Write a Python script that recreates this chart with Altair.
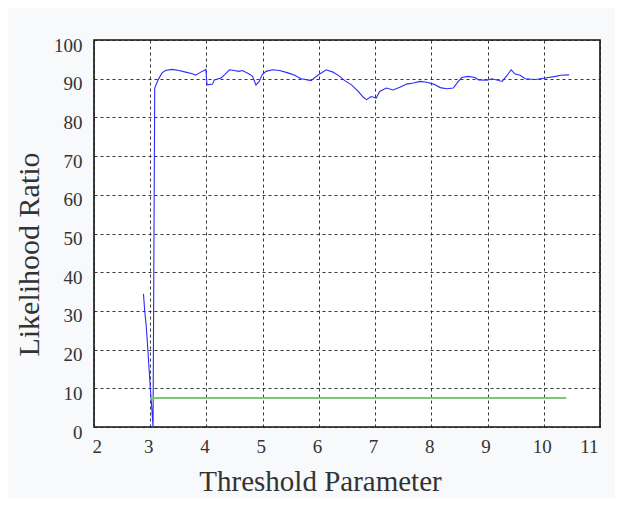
import altair as alt
import pandas as pd

# Blue trace (likelihood ratio vs threshold parameter)
lr_x = [2.88, 2.90, 2.93, 2.96, 3.00, 3.03, 3.05, 3.08, 3.14, 3.21, 3.27, 3.39,
        3.51, 3.63, 3.75, 3.81, 3.90, 3.99, 4.01, 4.11, 4.14, 4.26, 4.32, 4.41,
        4.49, 4.58, 4.64, 4.76, 4.82, 4.88, 4.94, 4.99, 5.06, 5.18, 5.30, 5.45,
        5.57, 5.68, 5.80, 5.86, 5.98, 6.13, 6.25, 6.37, 6.46, 6.58, 6.70, 6.79,
        6.85, 6.93, 7.02, 7.08, 7.20, 7.32, 7.44, 7.56, 7.68, 7.80, 7.92, 8.04,
        8.16, 8.27, 8.39, 8.48, 8.54, 8.66, 8.78, 8.84, 8.99, 9.08, 9.26, 9.35,
        9.42, 9.49, 9.58, 9.67, 9.85, 10.03, 10.21, 10.30, 10.45]
lr_y = [34.4, 30.3, 25.9, 19.5, 10.4, 4.4, 0.0, 87.6, 89.7, 91.5, 92.1, 92.4,
        92.1, 91.7, 91.3, 90.9, 91.7, 92.4, 88.4, 88.6, 89.7, 90.2, 91.0, 92.3,
        92.1, 91.9, 92.1, 91.2, 90.6, 88.4, 89.3, 91.0, 91.9, 92.3, 92.1, 91.5,
        90.9, 90.0, 89.7, 89.5, 90.9, 92.3, 91.7, 90.6, 89.5, 88.4, 86.7, 85.2,
        84.6, 85.4, 85.0, 86.7, 87.6, 87.1, 87.8, 88.6, 88.9, 89.3, 89.1, 88.6,
        87.7, 87.4, 87.6, 89.3, 90.3, 90.6, 90.3, 89.7, 89.6, 90.0, 89.3, 90.9,
        92.3, 91.2, 90.9, 90.0, 89.8, 90.2, 90.6, 90.9, 91.0]

# Green threshold line
thr_x = [3.0, 10.4]
thr_y = [7.5, 7.5]

x_ticks = list(range(2, 12))
y_ticks = list(range(0, 101, 10))

df = pd.concat([
    pd.DataFrame({"x": lr_x, "y": lr_y, "series": "ratio", "i": range(len(lr_x))}),
    pd.DataFrame({"x": thr_x, "y": thr_y, "series": "threshold", "i": range(len(thr_x))}),
])

FONT = "Liberation Serif"

chart = alt.Chart(df).mark_line().encode(
    x=alt.X("x:Q",
            scale=alt.Scale(domain=[2, 11], nice=False),
            axis=alt.Axis(values=x_ticks, title="Threshold Parameter",
                          titleX=226, titleY=63, titleBaseline="alphabetic",
                          titleFontSize=29, titleFontWeight="normal",
                          labelOffset=-2, labelPadding=10)),
    y=alt.Y("y:Q",
            scale=alt.Scale(domain=[0, 100], nice=False),
            axis=alt.Axis(values=y_ticks, title="Likelihood Ratio",
                          titleX=-56, titleY=214, titleBaseline="alphabetic",
                          titleFontSize=30, titleFontWeight="normal",
                          titleAngle=-90, labelPadding=12, labelOffset=5)),
    color=alt.Color("series:N",
                    scale=alt.Scale(domain=["ratio", "threshold"],
                                    range=["#2b2bff", "#79c879"]),
                    legend=None),
    strokeWidth=alt.StrokeWidth("series:N",
                                scale=alt.Scale(domain=["ratio", "threshold"],
                                                range=[1.1, 2.0]),
                                legend=None),
    order="i:Q",
    detail="series:N",
).properties(
    width=506, height=387,
    autosize=alt.AutoSizeParams(type="none"),
    padding={"left": 86, "top": 32, "right": 15, "bottom": 71},
    background="#f8f9fb",
).configure_view(
    stroke="#111111", strokeWidth=1.6, fill="white"
).configure_axis(
    labelFont=FONT, titleFont=FONT, labelFontSize=19, labelColor="#333333",
    titleColor="#333333", domain=False, ticks=False,
    grid=True, gridColor="#222222", gridDash=[3, 3], gridWidth=1,
    gridOpacity=0.9,
)

chart.save("out.html", embed_options={"renderer": "svg", "actions": False})
